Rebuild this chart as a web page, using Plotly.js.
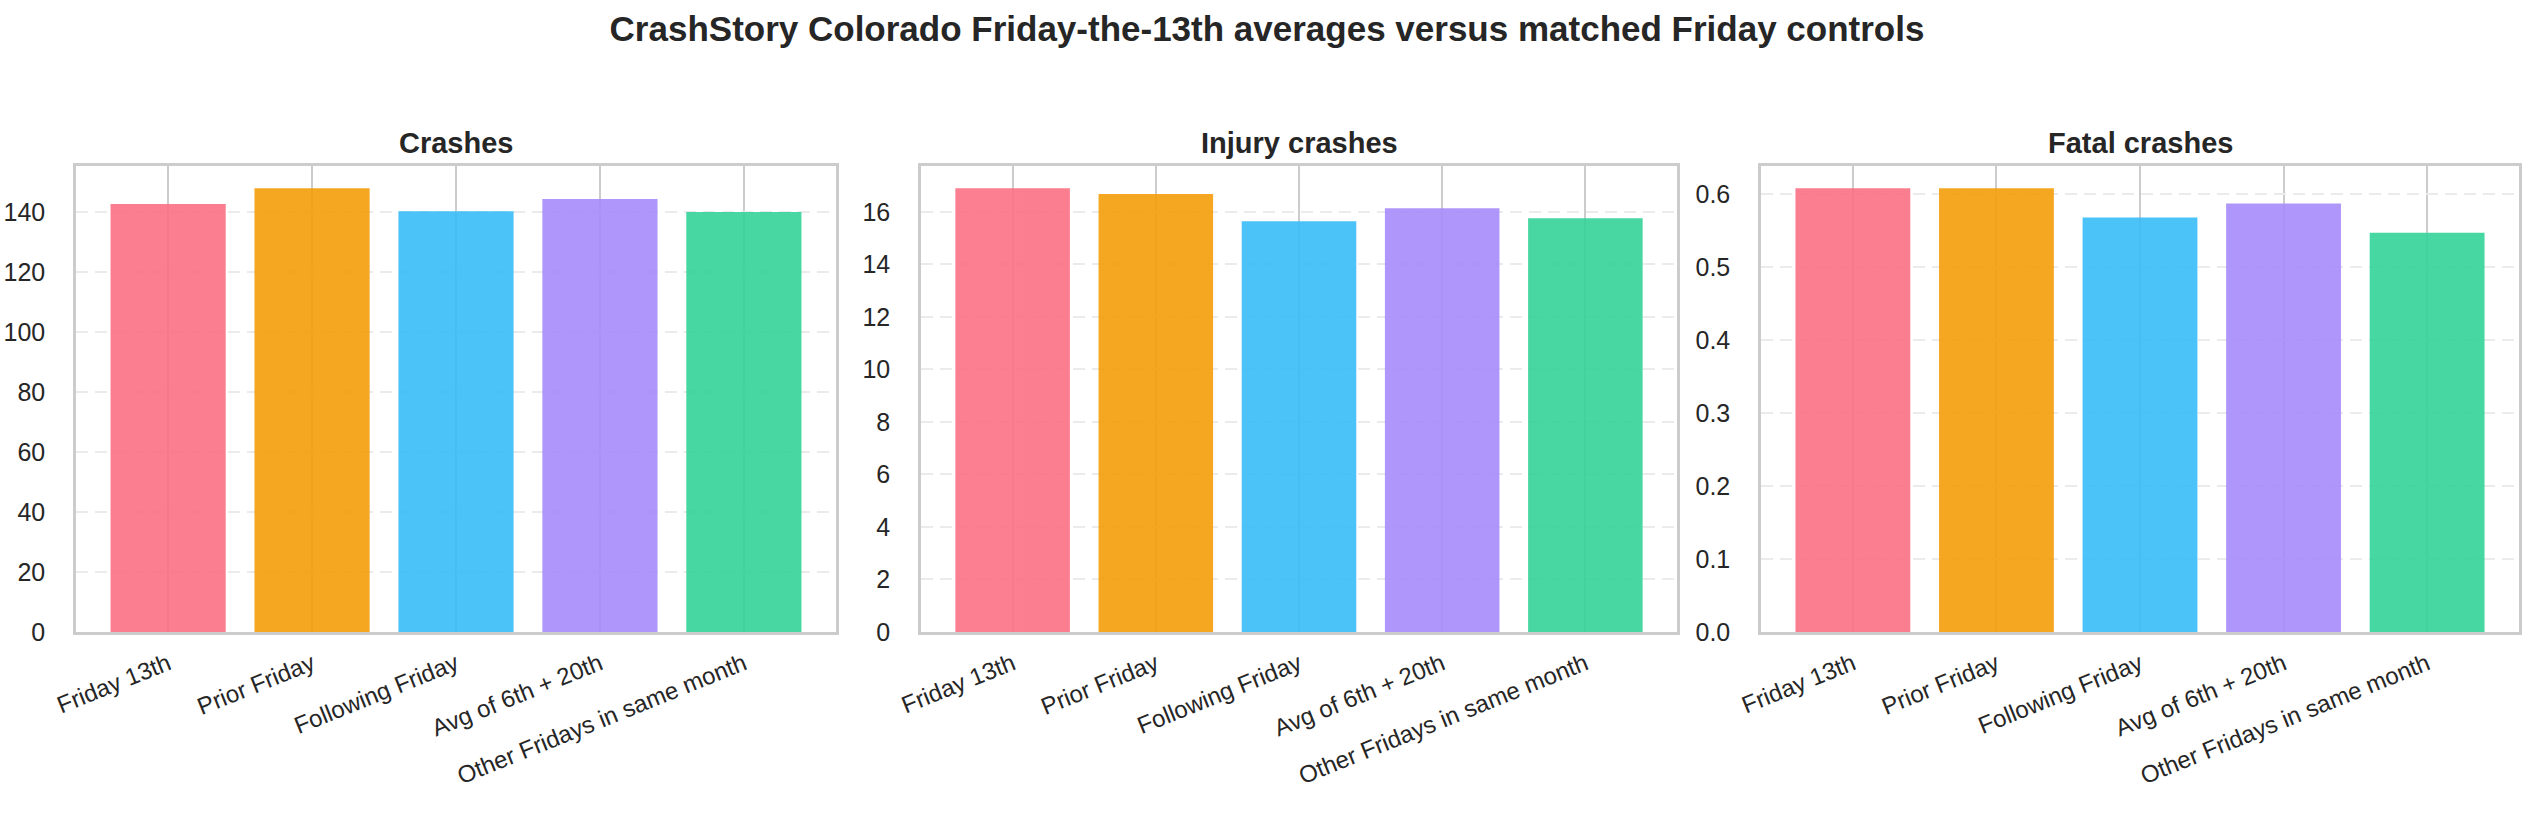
<!DOCTYPE html>
<html>
<head>
<meta charset="utf-8">
<script src="https://cdn.plot.ly/plotly-3.0.1.min.js"></script>
<style>
  html, body { margin: 0; padding: 0; background: #ffffff; }
  #myDiv { width: 2534px; height: 819px; }
</style>
</head>
<body>
<div id="myDiv"></div>
<script>
//  ======== DATA ========
var categories = ['Friday 13th', 'Prior Friday', 'Following Friday', 'Avg of 6th + 20th', 'Other Fridays in same month'];
var crashes = [142.7, 148.0, 140.3, 144.4, 140.1];
var injuryCrashes = [16.90, 16.68, 15.64, 16.14, 15.76];
var fatalCrashes = [0.608, 0.608, 0.568, 0.587, 0.547];
var panelTitles = ['Crashes', 'Injury crashes', 'Fatal crashes'];
var barColors = ['#fb7185', '#f59e0b', '#38bdf8', '#a78bfa', '#34d399'];

//  ======== LAYOUT HELPERS ========
var W = 2534, H = 819;
var panelsPx = [[76, 836], [921, 1677], [1761, 2519]]; // left/right edge of each axes box
var topPx = 166, bottomPx = 632;
var textColor = '#262626';
var fontFam = '"Liberation Sans", Arial, sans-serif';

function xAxis(i) {
  return {
    domain: [panelsPx[i][0] / W, panelsPx[i][1] / W],
    anchor: 'y' + (i === 0 ? '' : i + 1),
    type: 'category',
    range: [-0.64, 4.64],
    tickangle: -22,
    tickfont: {size: 24, color: textColor, family: fontFam},
    ticks: '',
    ticklabelstandoff: 6,
    showgrid: true,
    gridcolor: '#cccccc',
    gridwidth: 2,
    showline: true,
    linecolor: '#cccccc',
    linewidth: 2.5,
    mirror: true,
    zeroline: false,
    fixedrange: true
  };
}

function yAxis(i, values, dtick, fmt) {
  return {
    domain: [1 - bottomPx / H, 1 - topPx / H],
    anchor: 'x' + (i === 0 ? '' : i + 1),
    range: [0, Math.max.apply(null, values) * 1.05],
    dtick: dtick,
    tickformat: fmt,
    tickfont: {size: 25, color: textColor, family: fontFam},
    ticks: '',
    ticklabelstandoff: 23,
    showgrid: true,
    gridcolor: '#ebebeb',
    gridwidth: 2,
    griddash: '12px,7px',
    showline: true,
    linecolor: '#cccccc',
    linewidth: 2.5,
    mirror: true,
    zeroline: false,
    fixedrange: true
  };
}

function barTrace(i, values) {
  var suffix = i === 0 ? '' : String(i + 1);
  return {
    type: 'bar',
    x: categories,
    y: values,
    xaxis: 'x' + suffix,
    yaxis: 'y' + suffix,
    width: 0.8,
    opacity: 0.9,
    marker: {color: barColors, line: {width: 0}},
    hoverinfo: 'x+y',
    showlegend: false
  };
}

var plotData = [
  barTrace(0, crashes),
  barTrace(1, injuryCrashes),
  barTrace(2, fatalCrashes)
];

var annotations = panelTitles.map(function (t, i) {
  return {
    text: '<b>' + t + '</b>',
    xref: 'paper', yref: 'paper',
    x: (panelsPx[i][0] + panelsPx[i][1]) / 2 / W,
    y: 1 - 143 / H,
    xanchor: 'center', yanchor: 'middle',
    showarrow: false,
    font: {size: 29, color: textColor, family: fontFam}
  };
});

var layout = {
  width: W,
  height: H,
  margin: {l: 0, r: 0, t: 0, b: 0, pad: 0},
  paper_bgcolor: '#ffffff',
  plot_bgcolor: '#ffffff',
  title: {
    text: '<b>CrashStory Colorado Friday-the-13th averages versus matched Friday controls</b>',
    font: {size: 35, color: textColor, family: fontFam},
    x: 0.5, xref: 'paper', xanchor: 'center',
    y: 1 - 29 / H, yref: 'container', yanchor: 'middle'
  },
  bargap: 0.2,
  xaxis: xAxis(0),
  xaxis2: xAxis(1),
  xaxis3: xAxis(2),
  yaxis: yAxis(0, crashes, 20, 'd'),
  yaxis2: yAxis(1, injuryCrashes, 2, 'd'),
  yaxis3: yAxis(2, fatalCrashes, 0.1, '.1f'),
  annotations: annotations
};

var config = {displayModeBar: false, responsive: false};

Plotly.newPlot('myDiv', plotData, layout, config);
</script>
</body>
</html>
